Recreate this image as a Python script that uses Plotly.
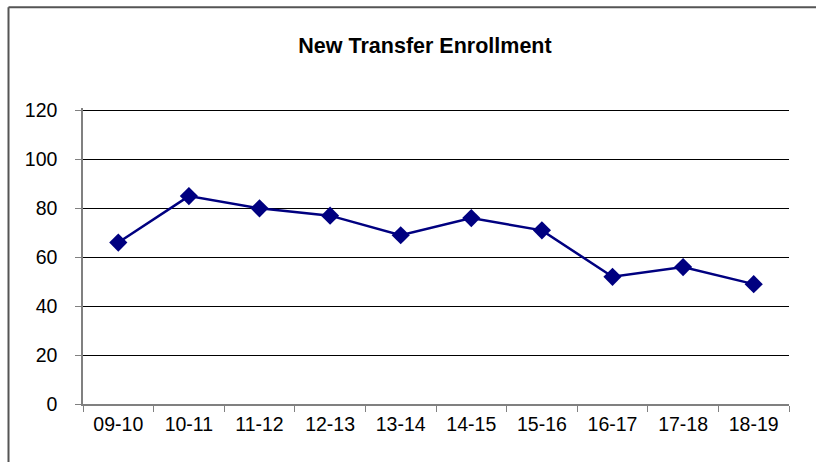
import plotly.graph_objects as go

# data
years = ['09-10', '10-11', '11-12', '12-13', '13-14',
         '14-15', '15-16', '16-17', '17-18', '18-19']
enrollment = [66, 85, 80, 77, 69, 76, 71, 52, 56, 49]
y_ticks = [0, 20, 40, 60, 80, 100, 120]

W, H = 816, 462
# y range goes a hair above 120 so plotly keeps the 120 grid line
y_top = 121.02
L, R, T, B = 83, 27, 107.5, 58
pw, ph = W - L - R, H - T - B

fig = go.Figure()
fig.add_trace(
    go.Scatter(x=years,
               y=enrollment,
               mode='lines+markers',
               line=dict(color='#000080', width=2.5),
               marker=dict(symbol='diamond', size=14, color='#000080'),
               name='New Transfer Enrollment'))

# outer chart frame (left + top edges are the only ones inside the view)
frame_top = (H - B - 6.5) / ph
frame_left = (8.5 - L) / pw
fig.add_shape(type='line', xref='paper', yref='paper',
              x0=frame_left, x1=(W - L) / pw,
              y0=frame_top, y1=frame_top,
              line=dict(color='#555555', width=2))
fig.add_shape(type='line', xref='paper', yref='paper',
              x0=frame_left, x1=frame_left,
              y0=frame_top, y1=-B / ph,
              line=dict(color='#555555', width=2))

fig.update_layout(
    width=W,
    height=H,
    margin=dict(l=L, r=R, t=T, b=B),
    paper_bgcolor='white',
    plot_bgcolor='white',
    showlegend=False,
    font=dict(family='Liberation Sans, Arial', size=19.5, color='black'),
    title=dict(text='<b>New Transfer Enrollment</b>',
               x=425 / W,
               xanchor='center',
               y=1 - 45 / H,
               yanchor='middle',
               font=dict(size=21.5)))

fig.update_xaxes(type='category',
                 range=[-0.5, 9.5],
                 tickson='boundaries',
                 ticks='outside',
                 ticklen=6,
                 tickcolor='#808080',
                 ticklabelstandoff=2,
                 showline=True,
                 linecolor='#808080',
                 linewidth=1.5,
                 showgrid=False,
                 zeroline=False)
fig.update_yaxes(range=[0, y_top],
                 tickvals=y_ticks,
                 ticks='outside',
                 ticklen=6,
                 tickcolor='#808080',
                 ticklabelstandoff=14,
                 showline=True,
                 linecolor='#808080',
                 linewidth=1.5,
                 showgrid=True,
                 gridcolor='black',
                 gridwidth=1,
                 zeroline=False)

fig.write_html("out.html",
               config={'displayModeBar': False},
               post_script="document.body.style.margin='0px';"
                           "document.body.style.overflow='hidden';")
